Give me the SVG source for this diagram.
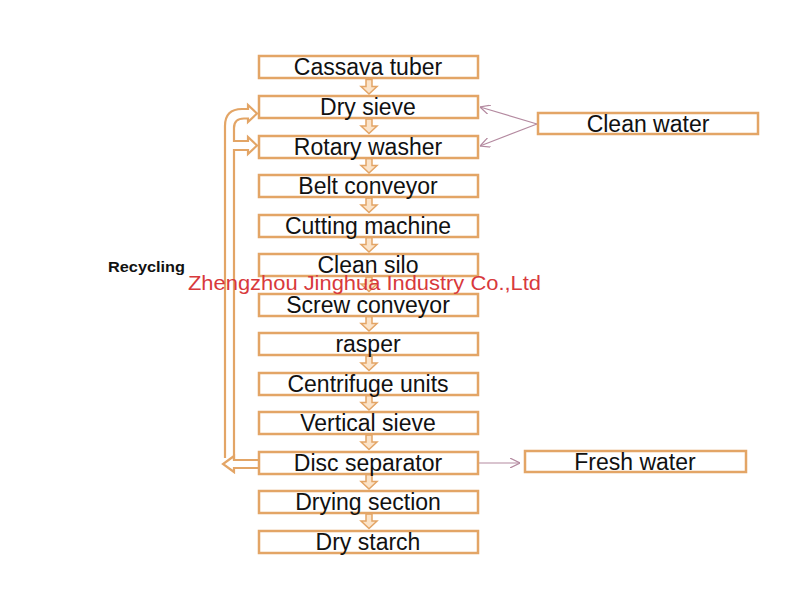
<svg xmlns="http://www.w3.org/2000/svg" width="800" height="600" viewBox="0 0 800 600">
<defs>
<style>
.box{fill:#fff;stroke:#e3a566;stroke-width:2.5}
.t{font-family:"Liberation Sans",Arial,sans-serif;font-size:23px;fill:#111;text-anchor:middle}
.da{fill:#fbe3c8;stroke:#e3a566;stroke-width:1.5}
.pipe{fill:none;stroke:#e3a566;stroke-width:2.2}
.thin{stroke:#b48aa0;stroke-width:1.2;fill:none}
</style>
<marker id="oa" viewBox="0 0 10 10" refX="10" refY="5" markerWidth="10" markerHeight="10" markerUnits="userSpaceOnUse" orient="auto">
<path d="M0,0 L10,5 L0,10" fill="none" stroke="#b48aa0" stroke-width="1.2"/>
</marker>
</defs>
<rect width="800" height="600" fill="#fff"/>

<g id="connectors">
<g id="down-arrows">
<path class="da" d="M366,79.5h6v7h5l-8,7.5l-8,-7.5h5z"/>
<path class="da" d="M366,119h6v7h5l-8,7.5l-8,-7.5h5z"/>
<path class="da" d="M366,158.5h6v7h5l-8,7.5l-8,-7.5h5z"/>
<path class="da" d="M366,198h6v7h5l-8,7.5l-8,-7.5h5z"/>
<path class="da" d="M366,237.5h6v7h5l-8,7.5l-8,-7.5h5z"/>
<path class="da" d="M366,277h6v7h5l-8,7.5l-8,-7.5h5z"/>
<path class="da" d="M366,316.5h6v7h5l-8,7.5l-8,-7.5h5z"/>
<path class="da" d="M366,356h6v7h5l-8,7.5l-8,-7.5h5z"/>
<path class="da" d="M366,395.5h6v7h5l-8,7.5l-8,-7.5h5z"/>
<path class="da" d="M366,435h6v7h5l-8,7.5l-8,-7.5h5z"/>
<path class="da" d="M366,474.5h6v7h5l-8,7.5l-8,-7.5h5z"/>
<path class="da" d="M366,514h6v7h5l-8,7.5l-8,-7.5h5z"/>
</g>
<g id="recycle">
<path class="pipe" fill="#fff" d="M258,460 H234 V150 H248 V154 L257,145.5 L248,137 V141 H234 V128 Q234,118.5 244,118.5 H248 V122 L257,113.5 L248,105 V109 H242 Q225,109 225,126 V458"/>
<path class="pipe" fill="#fff" d="M258,468 H234 V472 L223,464 L234,456 V460"/>
</g>
<line class="thin" x1="537" y1="124" x2="480" y2="107" marker-end="url(#oa)"/>
<line class="thin" x1="537" y1="124" x2="480" y2="146" marker-end="url(#oa)"/>
<line class="thin" x1="479" y1="463" x2="520" y2="463" marker-end="url(#oa)"/>
</g>

<g id="n1"><rect class="box" x="259" y="56" width="219" height="22"/><text class="t" x="368" y="75">Cassava tuber</text></g>
<g id="n2"><rect class="box" x="259" y="96" width="219" height="22"/><text class="t" x="368" y="115">Dry sieve</text></g>
<g id="n3"><rect class="box" x="259" y="136" width="219" height="22"/><text class="t" x="368" y="155">Rotary washer</text></g>
<g id="n4"><rect class="box" x="259" y="175" width="219" height="22"/><text class="t" x="368" y="194">Belt conveyor</text></g>
<g id="n5"><rect class="box" x="259" y="215" width="219" height="22"/><text class="t" x="368" y="234">Cutting machine</text></g>
<g id="n6"><rect class="box" x="259" y="254" width="219" height="22"/><text class="t" x="368" y="273">Clean silo</text></g>
<g id="n7"><rect class="box" x="259" y="294" width="219" height="22"/><text class="t" x="368" y="313">Screw conveyor</text></g>
<g id="n8"><rect class="box" x="259" y="333" width="219" height="22"/><text class="t" x="368" y="352">rasper</text></g>
<g id="n9"><rect class="box" x="259" y="373" width="219" height="22"/><text class="t" x="368" y="392">Centrifuge units</text></g>
<g id="n10"><rect class="box" x="259" y="412" width="219" height="22"/><text class="t" x="368" y="431">Vertical sieve</text></g>
<g id="n11"><rect class="box" x="259" y="452" width="219" height="22"/><text class="t" x="368" y="471">Disc separator</text></g>
<g id="n12"><rect class="box" x="259" y="491" width="219" height="22"/><text class="t" x="368" y="510">Drying section</text></g>
<g id="n13"><rect class="box" x="259" y="531" width="219" height="22"/><text class="t" x="368" y="550">Dry starch</text></g>

<g id="clean-water"><rect class="box" x="538" y="113" width="220" height="21"/><text class="t" x="648" y="132">Clean water</text></g>
<g id="fresh-water"><rect class="box" x="525" y="451" width="221" height="21"/><text class="t" x="635" y="470">Fresh water</text></g>

<text x="108" y="272" font-family="Liberation Sans,Arial,sans-serif" font-size="15" font-weight="bold" fill="#111" textLength="77" lengthAdjust="spacingAndGlyphs">Recycling</text>
<text x="188" y="290" font-family="Liberation Sans,Arial,sans-serif" font-size="20" fill="#d8393c" textLength="353" lengthAdjust="spacingAndGlyphs">Zhengzhou Jinghua Industry Co.,Ltd</text>
</svg>
